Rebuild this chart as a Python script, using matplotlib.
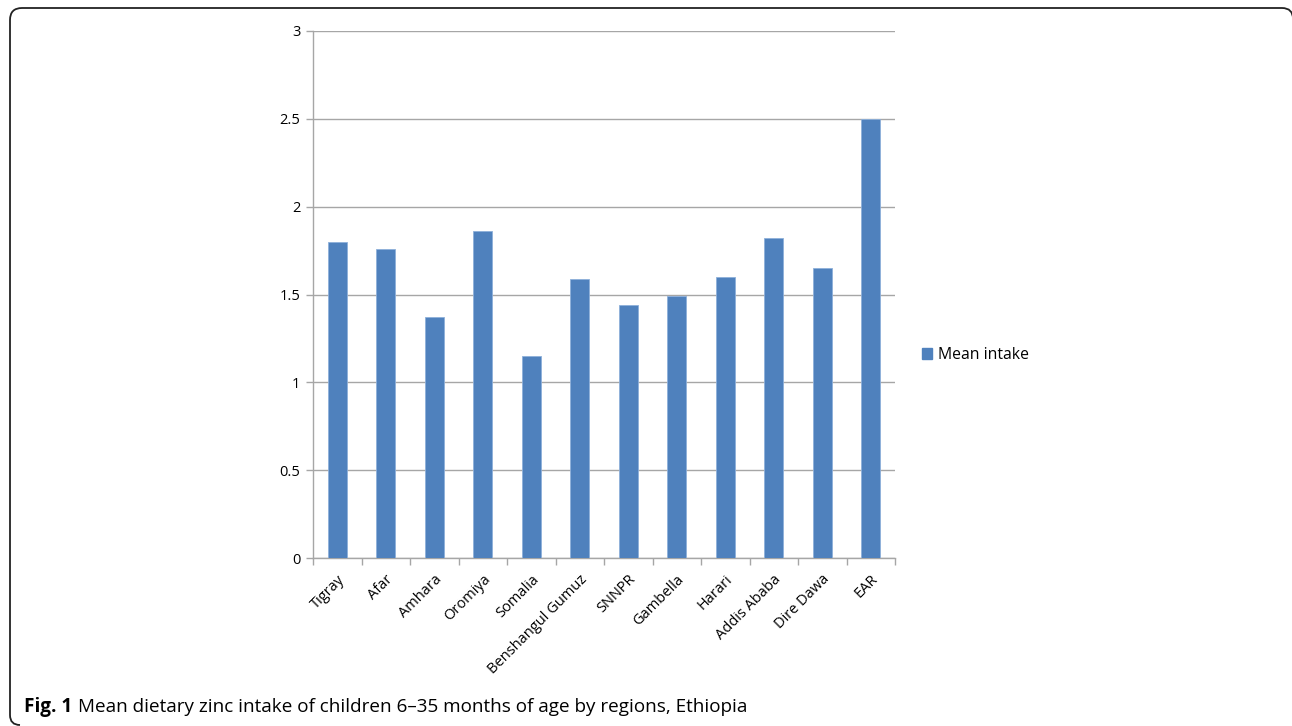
import numpy as np
import matplotlib
matplotlib.use("Agg")
import matplotlib.pyplot as plt
from matplotlib.patches import Patch, PathPatch
from matplotlib.path import Path
from matplotlib.transforms import IdentityTransform

regions = ["Tigray", "Afar", "Amhara", "Oromiya", "Somalia", "Benshangul Gumuz",
           "SNNPR", "Gambella", "Harari", "Addis Ababa", "Dire Dawa", "EAR"]
mean_intake = [1.80, 1.76, 1.37, 1.86, 1.15, 1.59, 1.44, 1.49, 1.60, 1.82, 1.65, 2.50]
y_ticks = [0, 0.5, 1, 1.5, 2, 2.5, 3]
y_tick_labels = ["0", "0.5", "1", "1.5", "2", "2.5", "3"]

plt.rcParams['font.family'] = ['Open Sans', 'DejaVu Sans']

fig = plt.figure(figsize=(12.92, 7.26), dpi=100)
ax = fig.add_axes([313 / 1292, 1 - 558 / 726, 582 / 1292, 527 / 726])

x = np.arange(len(regions))
bar_color = "#4F81BD"
ax.bar(x, mean_intake, width=0.40, color=bar_color, edgecolor="#8EB0DA",
       linewidth=0.6, zorder=3)

ax.set_xlim(-0.5, len(regions) - 0.5)
ax.set_ylim(0, 3)
ax.set_yticks(y_ticks)
ax.set_yticklabels(y_tick_labels, fontsize=10.5)
ax.yaxis.grid(True, color="#A6A6A6", linewidth=1.0, zorder=0)

# category boundary ticks, labels at centers
ax.set_xticks(np.arange(-0.5, len(regions), 1.0))
ax.set_xticklabels([])
ax.set_xticks(x, minor=True)
ax.set_xticklabels(regions, minor=True, rotation=45, ha="right",
                   rotation_mode="anchor", fontsize=10.5)
ax.tick_params(axis="x", which="major", length=5, color="#A6A6A6", width=1.0)
ax.tick_params(axis="x", which="minor", length=0, pad=10)
ax.tick_params(axis="y", length=5, color="#A6A6A6", width=1.0, pad=4)

for s in ["top", "right"]:
    ax.spines[s].set_visible(False)
for s in ["left", "bottom"]:
    ax.spines[s].set_color("#A6A6A6")
    ax.spines[s].set_linewidth(1.0)

fig.legend(handles=[Patch(facecolor=bar_color, edgecolor=bar_color, label="Mean intake")],
           loc="center left", bbox_to_anchor=(908 / 1292, 1 - 355 / 726),
           frameon=False, fontsize=11.3, handlelength=0.65, handleheight=0.65,
           handletextpad=0.35)

# frame around the figure (pixel coords): left side, top, cut-off corners
verts = [(20, 1), (10, 1), (10, 11), (10, 706), (10, 718), (22, 718),
         (1282, 718), (1293, 718), (1293, 707)]
codes = [Path.MOVETO, Path.CURVE3, Path.CURVE3, Path.LINETO, Path.CURVE3, Path.CURVE3,
         Path.LINETO, Path.CURVE3, Path.CURVE3]
frame = PathPatch(Path(verts, codes), transform=IdentityTransform(), fill=False,
                  edgecolor="#222222", linewidth=1.3, clip_on=False)
fig.patches.append(frame)

# caption
t1 = fig.text(24 / 1292, 1 - 707 / 726, "Fig. 1", fontsize=13.6, fontweight="bold",
              va="center", ha="left")
ax.annotate("Mean dietary zinc intake of children 6\u201335 months of age by regions, Ethiopia",
            xy=(1, 0.5), xycoords=t1, xytext=(4, 0), textcoords="offset points",
            fontsize=13.6, va="center", ha="left", annotation_clip=False)

fig.savefig("out.png", dpi=100)
